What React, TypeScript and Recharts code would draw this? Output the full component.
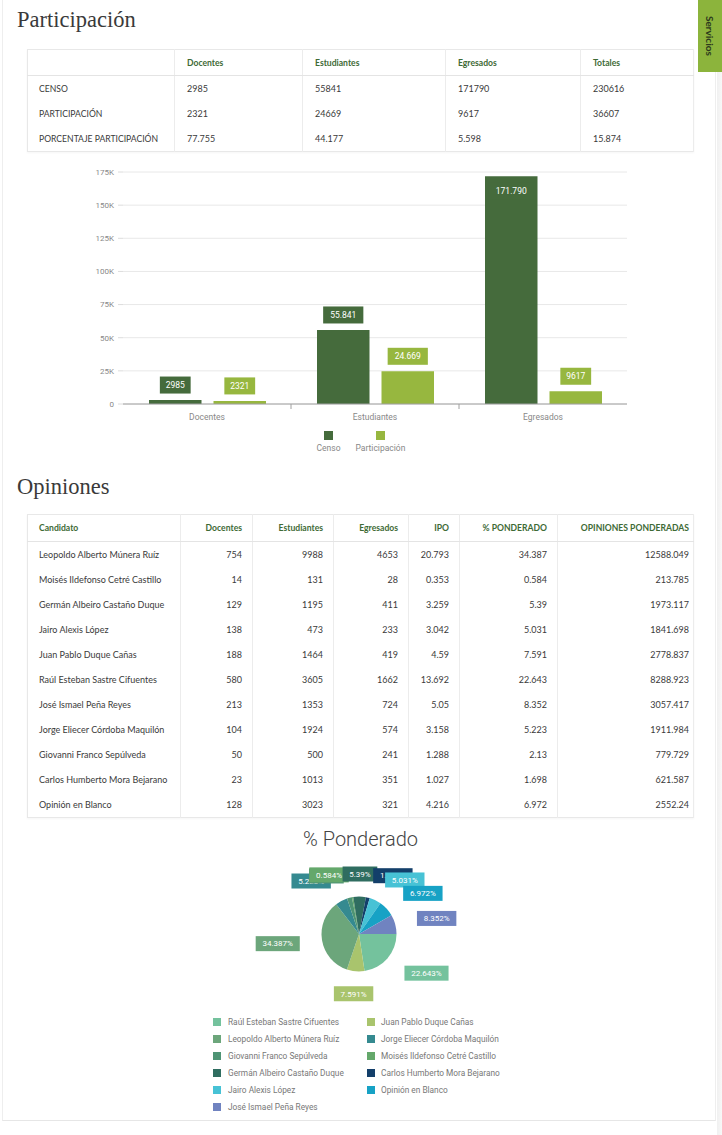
import React from "react";
import { BarChart, Bar, XAxis, YAxis, CartesianGrid, Legend, PieChart, Pie, Cell } from "recharts";

// Participación
const GROUPS = ["Docentes", "Estudiantes", "Egresados"];
const CENSO = [2985, 55841, 171790];
const PARTICIPACION = [2321, 24669, 9617];
const PORCENTAJE = [77.755, 44.177, 5.598];
const TOTALES = [230616, 36607, 15.874];
const Y_TICKS = [0, 25000, 50000, 75000, 100000, 125000, 150000, 175000];
const Y_MAX = 175000;

// Opiniones
const CANDIDATOS = [
  "Leopoldo Alberto Múnera Ruíz",
  "Moisés Ildefonso Cetré Castillo",
  "Germán Albeiro Castaño Duque",
  "Jairo Alexis López",
  "Juan Pablo Duque Cañas",
  "Raúl Esteban Sastre Cifuentes",
  "José Ismael Peña Reyes",
  "Jorge Eliecer Córdoba Maquilón",
  "Giovanni Franco Sepúlveda",
  "Carlos Humberto Mora Bejarano",
  "Opinión en Blanco",
];
const DOCENTES = [754, 14, 129, 138, 188, 580, 213, 104, 50, 23, 128];
const ESTUDIANTES = [9988, 131, 1195, 473, 1464, 3605, 1353, 1924, 500, 1013, 3023];
const EGRESADOS = [4653, 28, 411, 233, 419, 1662, 724, 574, 241, 351, 321];
const IPO = [20.793, 0.353, 3.259, 3.042, 4.59, 13.692, 5.05, 3.158, 1.288, 1.027, 4.216];
const PONDERADO = [34.387, 0.584, 5.39, 5.031, 7.591, 22.643, 8.352, 5.223, 2.13, 1.698, 6.972];
const OPINIONES_POND = [12588.049, 213.785, 1973.117, 1841.698, 2778.837, 8288.923, 3057.417, 1911.984, 779.729, 621.587, 2552.24];

// pie order + colours
const PIE_ORDER = [
  "Raúl Esteban Sastre Cifuentes",
  "Juan Pablo Duque Cañas",
  "Leopoldo Alberto Múnera Ruíz",
  "Jorge Eliecer Córdoba Maquilón",
  "Giovanni Franco Sepúlveda",
  "Moisés Ildefonso Cetré Castillo",
  "Germán Albeiro Castaño Duque",
  "Carlos Humberto Mora Bejarano",
  "Jairo Alexis López",
  "Opinión en Blanco",
  "José Ismael Peña Reyes",
];
const PIE_COLORS = ["#74c29d", "#a9c46d", "#6ca67b", "#358a90", "#4e9474", "#64a86b", "#2f6d60", "#133f6a", "#47c2d5", "#17a2c5", "#7083c0"];

const C_CENSO = "#456b3c";
const C_PART = "#97b73f";

const CHART_W = 722;
const BAR_MARGIN = { top: 12, right: 95, left: 0, bottom: 0 };
const Y_AXIS_W = 123;
const BAND = (CHART_W - BAR_MARGIN.left - BAR_MARGIN.right - Y_AXIS_W) / GROUPS.length;
const X_TICK_MARGIN = 10;
const RAD = Math.PI / 180;

const barData = GROUPS.map((g, i) => ({ grupo: g, censo: CENSO[i], participacion: PARTICIPACION[i] }));
const pieData = PIE_ORDER.map((name) => ({ name, value: PONDERADO[CANDIDATOS.indexOf(name)] }));

function fmtEs(n: number) {
  const s = String(n);
  if (n < 10000) return s;
  return s.replace(/\B(?=(\d{3})+(?!\d))/g, ".");
}

function textW(s: string) {
  let w = 0;
  for (const c of s) w += c === "." ? 2.2 : c === "%" ? 6.4 : 4.7;
  return w;
}

function ValueBox(props: any) {
  const { x, y, width, value, color } = props;
  const text = fmtEs(value);
  const w = text.length * 4.7 + 12;
  const h = 17;
  const inside = value > 0.9 * Y_MAX;
  const cy = inside ? y + 15 : y - 15;
  const cx = x + width / 2;
  return (
    <g>
      <rect x={cx - w / 2} y={cy - h / 2} width={w} height={h} fill={color} />
      <text x={cx} y={cy} dy="0.35em" textAnchor="middle" fill="#fff" fontSize={8.5} fontFamily="Roboto">
        {text}
      </text>
    </g>
  );
}

function GroupTick(props: any) {
  const { x, y, payload, index } = props;
  const axisY = y - X_TICK_MARGIN;
  return (
    <g>
      {index > 0 && <line x1={x - BAND / 2} x2={x - BAND / 2} y1={axisY} y2={axisY + 5} stroke="#a0a0a0" />}
      <text x={x} y={y} dy="0.71em" textAnchor="middle" fill="#888" fontSize={8.5} fontFamily="Roboto">
        {payload.value}
      </text>
    </g>
  );
}

function BarLegend() {
  const items = [
    { label: "Censo", color: C_CENSO },
    { label: "Participación", color: C_PART },
  ];
  return (
    <div style={{ display: "flex", justifyContent: "center", gap: 15, height: 26, paddingTop: 3, boxSizing: "border-box", fontFamily: "Roboto", fontSize: 8.5, color: "#888" }}>
      {items.map((it) => (
        <div key={it.label} style={{ display: "flex", flexDirection: "column", alignItems: "center" }}>
          <span style={{ width: 9, height: 9, background: it.color, display: "block" }} />
          <span style={{ marginTop: 3, lineHeight: "10px" }}>{it.label}</span>
        </div>
      ))}
    </div>
  );
}

function PieLegend() {
  return (
    <div style={{ position: "relative", width: CHART_W, height: 104, fontFamily: "Roboto", fontSize: 8.3, color: "#777" }}>
      {PIE_ORDER.map((name, i) => {
        const col = i % 2;
        const row = Math.floor(i / 2);
        return (
          <div key={name} style={{ position: "absolute", left: col ? 367 : 213, top: row * 17, height: 12, display: "flex", alignItems: "center", whiteSpace: "nowrap" }}>
            <span style={{ width: 8, height: 8, background: PIE_COLORS[i], display: "block" }} />
            <span style={{ marginLeft: col ? 6 : 7 }}>{name}</span>
          </div>
        );
      })}
    </div>
  );
}

function renderPieLabel(p: any) {
  const { cx, cy, midAngle, outerRadius, value, index } = p;
  const dx = Math.cos(-midAngle * RAD);
  const dy = Math.sin(-midAngle * RAD);
  const r = outerRadius * 1.6;
  const ax = cx + r * dx;
  const ay = cy + r * dy;
  const text = `${value}%`;
  const w = textW(text) + 12;
  const h = 15;
  let left = ax - w / 2;
  if (Math.abs(dx) >= 0.12) left = dx > 0 ? ax : ax - w;
  return (
    <g key={`lbl-${index}`}>
      <rect x={left} y={ay - h / 2} width={w} height={h} fill={PIE_COLORS[index]} />
      <text x={left + w / 2} y={ay} dy="0.35em" textAnchor="middle" fill="#fff" fontSize={8} fontFamily="Roboto">
        {text}
      </text>
    </g>
  );
}

const cellBase: React.CSSProperties = {
  height: 25,
  padding: 0,
  borderRight: "1px solid #ececec",
  fontSize: 9,
  color: "#3a3a3a",
  whiteSpace: "nowrap",
  overflow: "visible",
};
const headBase: React.CSSProperties = {
  ...cellBase,
  fontSize: 8.6,
  color: "#3e6a35",
  fontWeight: 700,
  borderBottom: "1px solid #e4e4e4",
};
const tableStyle: React.CSSProperties = {
  position: "absolute",
  left: 27,
  width: 666,
  borderCollapse: "collapse",
  tableLayout: "fixed",
  border: "1px solid #e8e8e8",
  fontFamily: "Lato",
  boxShadow: "0 1px 2px rgba(0,0,0,0.04)",
};

const titleStyle: React.CSSProperties = {
  position: "absolute",
  left: 17,
  fontFamily: "Liberation Serif",
  fontSize: 22.5,
  lineHeight: "22.5px",
  color: "#3a3a3a",
  margin: 0,
  fontWeight: 400,
};

function ParticipacionTable() {
  const rows = [
    { label: "CENSO", vals: [...CENSO, TOTALES[0]] },
    { label: "PARTICIPACIÓN", vals: [...PARTICIPACION, TOTALES[1]] },
    { label: "PORCENTAJE PARTICIPACIÓN", vals: [...PORCENTAJE, TOTALES[2]] },
  ];
  const widths = [147, 128, 143, 135, 113];
  const heads = ["", "Docentes", "Estudiantes", "Egresados", "Totales"];
  return (
    <table style={{ ...tableStyle, top: 49 }}>
      <colgroup>
        {widths.map((w, i) => (
          <col key={i} style={{ width: w }} />
        ))}
      </colgroup>
      <thead>
        <tr>
          {heads.map((h, i) => (
            <th key={i} style={{ ...headBase, textAlign: "left", paddingLeft: i === 0 ? 11 : 12 }}>
              {h}
            </th>
          ))}
        </tr>
      </thead>
      <tbody>
        {rows.map((r) => (
          <tr key={r.label}>
            <td style={{ ...cellBase, fontSize: 8.6, paddingLeft: 11 }}>{r.label}</td>
            {r.vals.map((v, i) => (
              <td key={i} style={{ ...cellBase, paddingLeft: 12 }}>
                {String(v)}
              </td>
            ))}
          </tr>
        ))}
      </tbody>
    </table>
  );
}

function OpinionesTable() {
  const widths = [153, 72, 81, 75, 51, 98, 136];
  const heads = ["Candidato", "Docentes", "Estudiantes", "Egresados", "IPO", "% PONDERADO", "OPINIONES PONDERADAS"];
  const cols = [DOCENTES, ESTUDIANTES, EGRESADOS, IPO, PONDERADO, OPINIONES_POND];
  return (
    <table style={{ ...tableStyle, top: 514 }}>
      <colgroup>
        {widths.map((w, i) => (
          <col key={i} style={{ width: w }} />
        ))}
      </colgroup>
      <thead>
        <tr>
          {heads.map((h, i) => (
            <th
              key={i}
              style={{
                ...headBase,
                height: 26,
                textAlign: i === 0 ? "left" : "right",
                paddingLeft: i === 0 ? 11 : 0,
                paddingRight: i === 0 ? 0 : i === 6 ? 4 : 10,
              }}
            >
              {h}
            </th>
          ))}
        </tr>
      </thead>
      <tbody>
        {CANDIDATOS.map((name, r) => (
          <tr key={name}>
            <td style={{ ...cellBase, paddingLeft: 11 }}>{name}</td>
            {cols.map((c, i) => (
              <td key={i} style={{ ...cellBase, textAlign: "right", paddingRight: i === 5 ? 4 : 10 }}>
                {String(c[r])}
              </td>
            ))}
          </tr>
        ))}
      </tbody>
    </table>
  );
}

export default function App() {
  return (
    <div style={{ position: "absolute", left: 0, top: 0, width: 722, height: 1135, background: "#fff", overflow: "hidden" }}>
      {/* card */}
      <div
        style={{
          position: "absolute",
          left: 2,
          top: -2,
          width: 714,
          height: 1123,
          background: "#fff",
          borderLeft: "1px solid #eeeeee",
          borderRight: "1px solid #eeeeee",
          borderBottom: "1px solid #e6e6e6",
          boxSizing: "border-box",
        }}
      />
      <div style={{ position: "absolute", left: 717, top: 0, width: 5, height: 1135, background: "linear-gradient(to right, #f0f0f0, #f8f8f8)" }} />

      {/* Servicios tab */}
      <div
        style={{
          position: "absolute",
          left: 698,
          top: 0,
          width: 24,
          height: 72,
          background: "#8cb43c",
          display: "flex",
          alignItems: "center",
          justifyContent: "center",
        }}
      >
        <span style={{ writingMode: "vertical-rl", fontFamily: "Lato", fontWeight: 700, fontSize: 10, color: "#2c3a1c" }}>Servicios</span>
      </div>

      <h2 style={{ ...titleStyle, top: 9 }}>Participación</h2>
      <ParticipacionTable />

      <div style={{ position: "absolute", left: 0, top: 160 }}>
        <BarChart width={CHART_W} height={294} data={barData} margin={BAR_MARGIN} barGap={12} barSize={52.5}>
          <CartesianGrid vertical={false} stroke="#e8e8e8" />
          <XAxis
            dataKey="grupo"
            axisLine={{ stroke: "#a0a0a0" }}
            tickLine={false}
            tickSize={0}
            tickMargin={X_TICK_MARGIN}
            height={24}
            tick={<GroupTick />}
            interval={0}
          />
          <YAxis
            width={Y_AXIS_W}
            domain={[0, Y_MAX]}
            ticks={Y_TICKS}
            axisLine={false}
            tickLine={{ stroke: "#dcdcdc" }}
            tickSize={5}
            tickMargin={4}
            tick={{ fill: "#888", fontSize: 8, fontFamily: "Roboto" }}
            tickFormatter={(v: number) => (v === 0 ? "0" : `${v / 1000}K`)}
          />
          <Legend verticalAlign="bottom" wrapperStyle={{ left: 0, width: CHART_W }} content={() => <BarLegend />} />
          <Bar dataKey="censo" name="Censo" fill={C_CENSO} isAnimationActive={false} label={(p: any) => <ValueBox {...p} color={C_CENSO} />} />
          <Bar
            dataKey="participacion"
            name="Participación"
            fill={C_PART}
            isAnimationActive={false}
            label={(p: any) => <ValueBox {...p} color={C_PART} />}
          />
        </BarChart>
      </div>

      <h2 style={{ ...titleStyle, top: 476 }}>Opiniones</h2>
      <OpinionesTable />

      <div
        style={{
          position: "absolute",
          left: 0,
          top: 829,
          width: 721,
          textAlign: "center",
          fontFamily: "Roboto",
          fontWeight: 300,
          fontSize: 20,
          lineHeight: "20px",
          color: "#444",
        }}
      >
        % Ponderado
      </div>

      <div style={{ position: "absolute", left: 0, top: 830 }}>
        <PieChart width={CHART_W} height={300} margin={{ top: 0, right: 0, bottom: 0, left: 0 }}>
          <Pie
            data={pieData}
            dataKey="value"
            nameKey="name"
            cx={359}
            cy={104}
            outerRadius={37.5}
            startAngle={0}
            endAngle={-360}
            stroke="none"
            labelLine={false}
            label={renderPieLabel}
            isAnimationActive={false}
          >
            {pieData.map((d, i) => (
              <Cell key={d.name} fill={PIE_COLORS[i]} />
            ))}
          </Pie>
          <Legend verticalAlign="bottom" wrapperStyle={{ left: 0, top: 186, bottom: "auto", width: CHART_W }} content={() => <PieLegend />} />
        </PieChart>
      </div>
    </div>
  );
}
